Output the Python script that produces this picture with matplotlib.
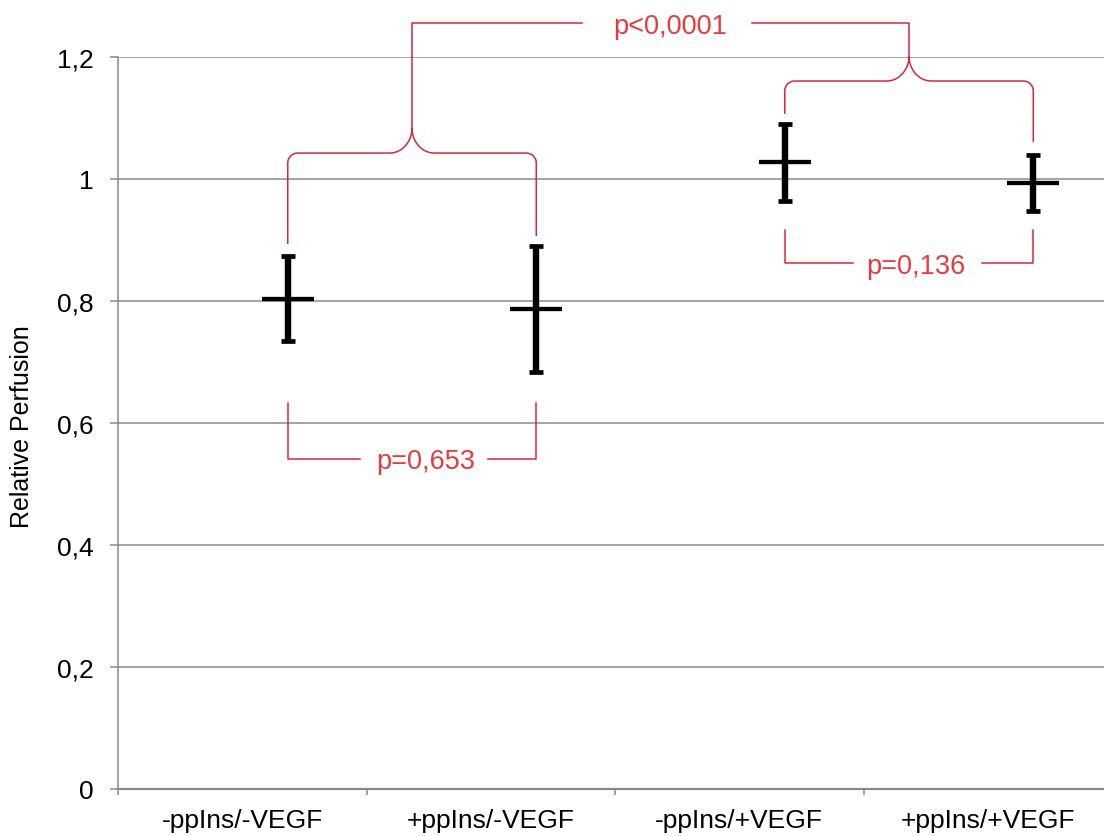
import numpy as np
import matplotlib.pyplot as plt

plt.rcParams['font.family'] = ['Liberation Sans', 'DejaVu Sans']

# data
groups = ["-ppIns/-VEGF", "+ppIns/-VEGF", "-ppIns/+VEGF", "+ppIns/+VEGF"]
means = [0.803, 0.786, 1.027, 0.993]
err_lo = [0.069, 0.103, 0.064, 0.046]
err_hi = [0.070, 0.104, 0.063, 0.046]
yticks = [0, 0.2, 0.4, 0.6, 0.8, 1.0, 1.2]
ytick_labels = ["0", "0,2", "0,4", "0,6", "0,8", "1", "1,2"]
p_pairs = ["p=0,653", "p=0,136"]
p_groups = "p<0,0001"

RED_LINE = '#d3283f'
RED_TEXT = '#e63a40'
GRID = '#8a8a8a'

fig = plt.figure(figsize=(11.04, 8.37), dpi=100)
ax = fig.add_axes([0.1069, 0.0562, 0.9004, 0.8746])

# points sit a bit right of the category centre, like in the original
xpos = np.arange(len(groups)) + 0.5 + 0.183

ax.errorbar(xpos, means, yerr=[err_lo, err_hi], fmt='none', ecolor='black',
            elinewidth=4.6, capsize=5, capthick=3.4, zorder=3)
ax.plot(xpos, means, ls='none', marker='_', ms=37, mew=3.1, color='black', zorder=4)

ax.set_xlim(0, 4)
ax.set_ylim(0, 1.2)
ax.set_yticks(yticks, ytick_labels)
ax.grid(axis='y', color=GRID, lw=1.1)
ax.set_axisbelow(True)
ax.tick_params(axis='y', length=5.8, width=1.1, color=GRID, pad=12, labelsize=19)

ax.set_xticks(range(5), [''] * 5)
ax.set_xticks(np.arange(4) + 0.5, groups, minor=True)
ax.tick_params(axis='x', which='major', length=4.5, width=1.1, color=GRID)
ax.tick_params(axis='x', which='minor', length=0, pad=14, labelsize=19)

for s in ['top', 'right']:
    ax.spines[s].set_visible(False)
ax.spines['left'].set_color(GRID)
ax.spines['left'].set_linewidth(1.1)
ax.spines['bottom'].set_color(GRID)
ax.spines['bottom'].set_linewidth(1.6)

fig.text(22 / 1104, 1 - 427 / 837, "Relative Perfusion", rotation=90,
         ha='center', va='center', fontsize=18)


def brace(xa, xb, y, ya, yb, tip=0.041, rx=0.04, ry=0.0164, trx=0.09):
    xm = (xa + xb) / 2
    t = np.linspace(0, np.pi / 2, 20)
    xs = [xa]
    ys = [ya]
    xs += list(xa + rx - rx * np.cos(t)); ys += list(y - ry + ry * np.sin(t))
    xs += list(xm - trx + trx * np.sin(t)); ys += list(y + tip - tip * np.cos(t))
    xs += list(xm + trx - trx * np.sin(t[::-1])); ys += list(y + tip - tip * np.cos(t[::-1]))
    xs += list(xb - rx + rx * np.cos(t[::-1])); ys += list(y - ry + ry * np.sin(t[::-1]))
    xs.append(xb); ys.append(yb)
    ax.plot(xs, ys, color=RED_LINE, lw=1.1, clip_on=False, zorder=2)
    return xm, y + tip


def bracket(xa, xb, y, ytop_a, ytop_b, gap_a, gap_b):
    ax.plot([xa, xa, gap_a], [ytop_a, y, y], color=RED_LINE, lw=1.1, clip_on=False)
    ax.plot([gap_b, xb, xb], [y, y, ytop_b], color=RED_LINE, lw=1.1, clip_on=False)


def ptext(x, y, s):
    ax.annotate(s, xy=(x, y), xytext=(0, -6.9), textcoords='offset points',
                ha='center', va='baseline', color=RED_TEXT, fontsize=19.5,
                annotation_clip=False)


# pairwise brackets below / between the points
bracket(xpos[0], xpos[1], 0.5417, 0.632, 0.632, 0.974, 1.489)
ptext(1.239, 0.5417, p_pairs[0])
bracket(xpos[2], xpos[3], 0.8618, 0.916, 0.916, 2.958, 3.477)
ptext(3.211, 0.8618, p_pairs[1])

# braces joining the two VEGF groups
lx, ly = brace(xpos[0], xpos[1], 1.0424, 0.8946, 0.9077)
rx_, ry_ = brace(xpos[2], xpos[3], 1.1605, 1.108, 1.062)
top = 1.2557
ax.plot([lx, lx, 1.867], [ly, top, top], color=RED_LINE, lw=1.1, clip_on=False)
ax.plot([2.551, rx_, rx_], [top, top, ry_], color=RED_LINE, lw=1.1, clip_on=False)
ptext(2.221, top, p_groups)

plt.savefig("out.png", dpi=100)
